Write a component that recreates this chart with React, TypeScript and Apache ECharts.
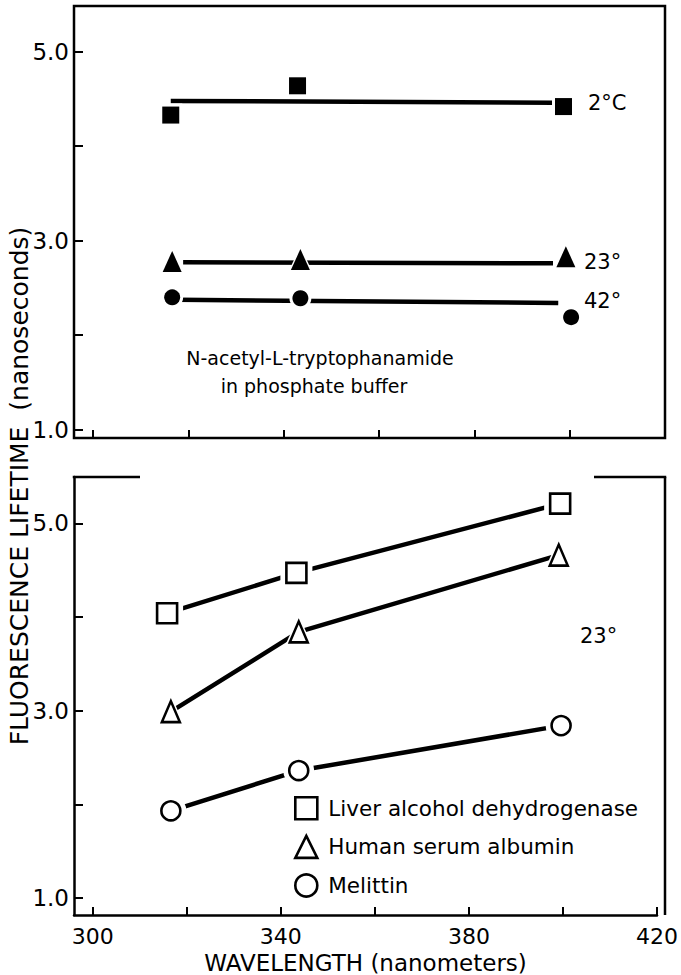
import React, { useEffect, useRef } from "react";
import * as echarts from "echarts";

const FONT = "'DejaVu Sans', sans-serif";

// axes
const wavelengthRange = [296, 420];
const wavelengthTicks = [300, 320, 340, 360, 380, 400, 420];
const wavelengthLabels = [300, 340, 380, 420];
const lifetimeTicks = [1, 2, 3, 4, 5];
const lifetimeLabels = [1, 3, 5];
const topLifetimeRange = [0.91, 5.485];
const bottomLifetimeRange = [0.818, 5.494];

// top panel: N-acetyl-L-tryptophanamide in phosphate buffer
const nat2CWavelength = [316.3, 342.9, 398.7];
const nat2CLifetime = [4.33, 4.64, 4.42];
const nat23CWavelength = [316.6, 343.5, 399.2];
const nat23CLifetime = [2.78, 2.8, 2.83];
const nat42CWavelength = [316.6, 343.5, 400.3];
const nat42CLifetime = [2.4, 2.39, 2.19];
const fit2CWavelength = [316.3, 396.5];
const fit2CLifetime = [4.48, 4.46];
const fit23CWavelength = [318.9, 396.5];
const fit23CLifetime = [2.77, 2.76];
const fit42CWavelength = [317.8, 397.6];
const fit42CLifetime = [2.374, 2.34];

// bottom panel: proteins at 23°
const proteinNames = ["Liver alcohol dehydrogenase", "Human serum albumin", "Melittin"];
const ladhWavelength = [315.8, 343.3, 399.4];
const ladhLifetime = [4.04, 4.47, 5.21];
const hsaWavelength = [316.6, 343.8, 399.1];
const hsaLifetime = [2.99, 3.84, 4.66];
const melittinWavelength = [316.6, 343.8, 399.6];
const melittinLifetime = [1.93, 2.36, 2.84];

const zip = (xs: number[], ys: number[]) => xs.map((x, i) => [x, ys[i]]);

const GRID_LEFT = 74;
const GRID_WIDTH = 591;
const TOP_GRID = { top: 6, height: 432 };
const BOT_GRID = { top: 477, height: 438 };

export default function App() {
  const ref = useRef<HTMLDivElement>(null);
  useEffect(() => {
    document.body.style.margin = "0";
    const chart = echarts.init(ref.current!, null, { renderer: "svg" });

    const xAxisBase = (gridIndex: number, labels: boolean) => ({
      type: "value",
      gridIndex,
      min: wavelengthRange[0],
      max: wavelengthRange[1],
      splitLine: { show: false },
      axisLine: { show: gridIndex === 1, lineStyle: { color: "#000", width: 2.5 } },
      axisTick: {
        show: true,
        inside: true,
        length: 8,
        customValues: wavelengthTicks,
        lineStyle: { color: "#000", width: 2 },
      },
      axisLabel: {
        show: labels,
        customValues: wavelengthLabels,
        fontSize: 22,
        fontFamily: FONT,
        color: "#000",
        margin: 10,
      },
      ...(labels
        ? {
            name: "WAVELENGTH (nanometers)",
            nameLocation: "middle",
            nameGap: 36,
            nameTextStyle: { fontSize: 23, fontFamily: FONT, color: "#000" },
          }
        : {}),
    });

    const yAxisBase = (gridIndex: number, range: number[]) => ({
      type: "value",
      gridIndex,
      min: range[0],
      max: range[1],
      splitLine: { show: false },
      axisLine: { show: gridIndex === 1, lineStyle: { color: "#000", width: 2.5 } },
      axisTick: {
        show: true,
        inside: true,
        length: 9,
        customValues: lifetimeTicks,
        lineStyle: { color: "#000", width: 2 },
      },
      axisLabel: {
        customValues: lifetimeLabels,
        formatter: (v: number) => v.toFixed(1),
        fontSize: 23,
        fontFamily: FONT,
        color: "#000",
        margin: 5,
      },
    });

    const markerSet = (
      name: string,
      grid: number,
      xs: number[],
      ys: number[],
      symbol: string,
      size: number | number[],
      hollow: boolean,
      halo: number
    ) => {
      const s = Array.isArray(size) ? size : [size, size];
      return [
        {
          name: name + " halo",
          type: "scatter",
          xAxisIndex: grid,
          yAxisIndex: grid,
          data: zip(xs, ys),
          symbol,
          symbolSize: [s[0] + halo, s[1] + halo],
          itemStyle: { color: "#fff", opacity: 1 },
          silent: true,
          z: 3,
        },
        {
          name,
          type: "scatter",
          xAxisIndex: grid,
          yAxisIndex: grid,
          data: zip(xs, ys),
          symbol,
          symbolSize: s,
          itemStyle: hollow
            ? { color: "#fff", borderColor: "#000", borderWidth: 2.6, opacity: 1 }
            : { color: "#000", opacity: 1 },
          z: 4,
        },
      ];
    };

    const lineSeries = (name: string, grid: number, xs: number[], ys: number[]) => ({
      name,
      type: "line",
      xAxisIndex: grid,
      yAxisIndex: grid,
      data: zip(xs, ys),
      showSymbol: false,
      symbol: "none",
      lineStyle: { color: "#000", width: 4.5 },
      z: 2,
    });

    const text = (t: string, x: number, y: number, size: number, align = "left", extra: any = {}) => ({
      type: "text",
      x,
      y,
      ...extra,
      style: {
        text: t,
        fontSize: size,
        fontFamily: FONT,
        fill: "#000",
        align,
        verticalAlign: "middle",
      },
      z: 10,
    });

    const frameLine = (x1: number, y1: number, x2: number, y2: number) => ({
      type: "line",
      shape: { x1, y1, x2, y2 },
      style: { stroke: "#000", lineWidth: 2.5 },
      z: 10,
    });

    const botTop = BOT_GRID.top;
    const botBottom = BOT_GRID.top + BOT_GRID.height;
    const right = GRID_LEFT + GRID_WIDTH;
    const legendItemStyle = { color: "#fff", borderColor: "#000", borderWidth: 2.6 };

    chart.setOption({
      animation: false,
      backgroundColor: "#fff",
      grid: [
        {
          left: GRID_LEFT,
          top: TOP_GRID.top,
          width: GRID_WIDTH,
          height: TOP_GRID.height,
          show: true,
          borderColor: "#000",
          borderWidth: 2.5,
          backgroundColor: "transparent",
        },
        { left: GRID_LEFT, top: BOT_GRID.top, width: GRID_WIDTH, height: BOT_GRID.height },
      ],
      xAxis: [xAxisBase(0, false), xAxisBase(1, true)],
      yAxis: [yAxisBase(0, topLifetimeRange), yAxisBase(1, bottomLifetimeRange)],
      legend: {
        orient: "vertical",
        left: 294,
        top: 796,
        padding: 0,
        itemWidth: 22,
        itemHeight: 22,
        itemGap: 14,
        selectedMode: false,
        textStyle: { fontSize: 21.5, fontFamily: FONT, color: "#000", padding: [0, 0, 0, 6] },
        data: [
          { name: proteinNames[0], icon: "rect", itemStyle: legendItemStyle },
          { name: proteinNames[1], icon: "triangle", itemStyle: legendItemStyle },
          { name: proteinNames[2], icon: "circle", itemStyle: legendItemStyle },
        ],
      },
      series: [
        lineSeries("fit 2°C", 0, fit2CWavelength, fit2CLifetime),
        lineSeries("fit 23°", 0, fit23CWavelength, fit23CLifetime),
        lineSeries("fit 42°", 0, fit42CWavelength, fit42CLifetime),
        ...markerSet("2°C", 0, nat2CWavelength, nat2CLifetime, "rect", 17, false, 6),
        ...markerSet("23°C", 0, nat23CWavelength, nat23CLifetime, "triangle", [19, 21], false, 6),
        ...markerSet("42°C", 0, nat42CWavelength, nat42CLifetime, "circle", 16, false, 6),
        lineSeries("LADH line", 1, ladhWavelength, ladhLifetime),
        lineSeries("HSA line", 1, hsaWavelength, hsaLifetime),
        lineSeries("Melittin line", 1, melittinWavelength, melittinLifetime),
        ...markerSet(proteinNames[0], 1, ladhWavelength, ladhLifetime, "rect", 20, true, 12),
        ...markerSet(proteinNames[1], 1, hsaWavelength, hsaLifetime, "triangle", [18, 21], true, 12),
        ...markerSet(proteinNames[2], 1, melittinWavelength, melittinLifetime, "circle", 19, true, 12),
      ],
      graphic: [
        frameLine(right, botTop, right, botBottom),
        frameLine(GRID_LEFT - 1.25, botTop, 140, botTop),
        frameLine(594, botTop, right + 1.25, botTop),
        text("2°C", 588, 103, 21),
        text("23°", 584, 262, 21),
        text("42°", 584, 301, 21),
        text("N-acetyl-L-tryptophanamide", 320, 358, 19, "center"),
        text("in phosphate buffer", 314, 386, 19, "center"),
        text("23°", 580, 636, 21),
        text("FLUORESCENCE LIFETIME  (nanoseconds)", 19, 486, 25, "center", { rotation: Math.PI / 2 }),
      ],
    });
    return () => chart.dispose();
  }, []);
  return (
    <div
      ref={ref}
      style={{ position: "absolute", left: 0, top: 0, width: 681, height: 975 }}
    />
  );
}
